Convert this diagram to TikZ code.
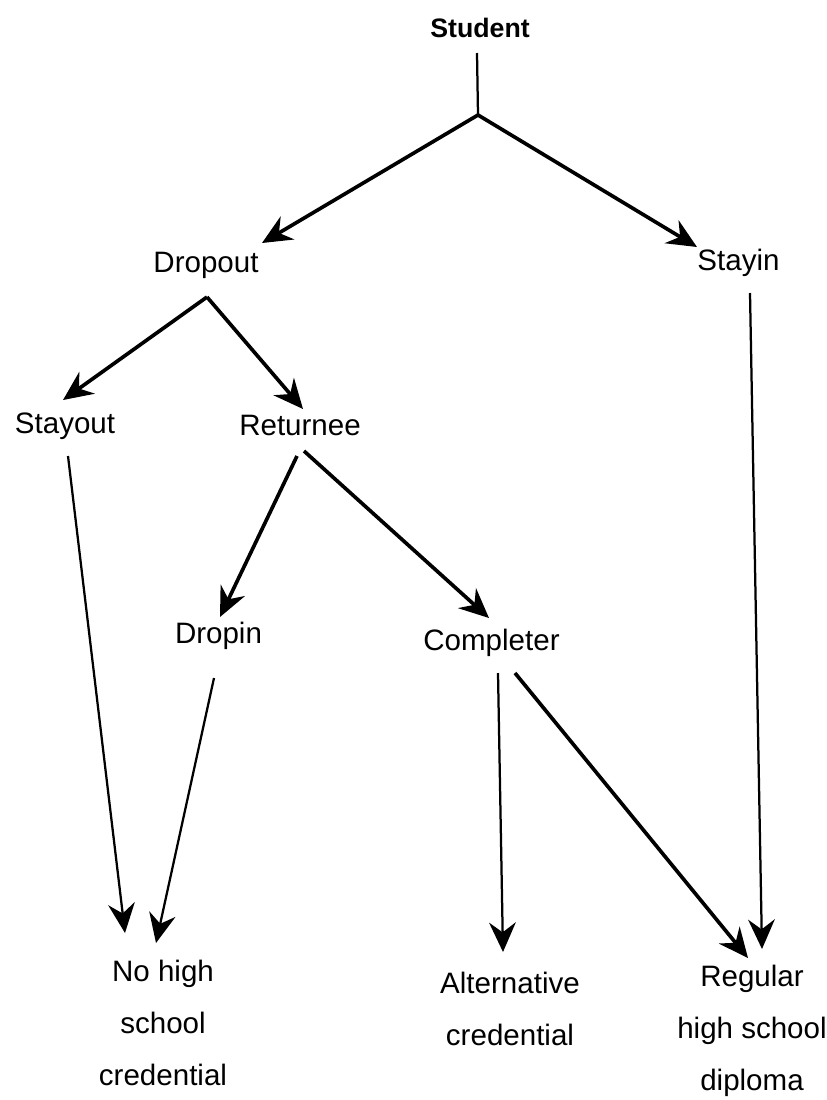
\documentclass[tikz,border=0pt]{standalone}
\usepackage{fontspec}
\setmainfont{Liberation Sans}
\usetikzlibrary{arrows.meta}

\begin{document}
\begin{tikzpicture}[
    x=0.025cm, y=-0.025cm,
    term/.style={anchor=base, inner sep=0pt, font=\fontsize{21}{25}\selectfont},
    outcome/.style={anchor=north, inner sep=0pt, align=center, font=\fontsize{21}{37}\selectfont},
    stem/.style={line width=1.6pt},
    arrow/.style={-{Stealth[length=21pt, width=19pt, inset=7pt]}, line width=2.6pt},
    thinarrow/.style={arrow, line width=1.6pt},
]
\useasboundingbox (0,0) rectangle (827,1100);

% Root
\node[term, font=\fontsize{19}{23}\selectfont\bfseries] (student) at (480,37) {Student};
\coordinate (split) at (478,115);

% First split
\node[term] (dropout) at (206,272) {Dropout};
\node[term] (stayin) at (738.5,270) {Stayin};

% Dropout branch
\node[term] (stayout) at (65,433) {Stayout};
\node[term] (returnee) at (300,435) {Returnee};

% Returnee branch
\node[term] (dropin) at (218.5,643) {Dropin};
\node[term] (completer) at (491.5,650) {Completer};

% Outcomes
\node[outcome] (nohs) at (163,960) {No high\\school\\credential};
\node[outcome] (altcred) at (510,972) {Alternative\\credential};
\node[outcome] (regdip) at (752,965) {Regular\\high school\\diploma};

% Student -> Dropout / Stayin
\draw[stem] ([shift={(-3,16)}]student.base) -- (split);
\draw[arrow] (split) -- ([shift={(56,-29)}]dropout.base);
\draw[arrow] (split) -- ([shift={(-41.5,-23)}]stayin.base);

% Dropout -> Stayout / Returnee
\draw[arrow] ([shift={(1,25)}]dropout.base) -- ([shift={(-2,-33)}]stayout.base);
\draw[arrow] ([shift={(1,25)}]dropout.base) -- ([shift={(3,-26)}]returnee.base);

% Returnee -> Dropin / Completer
\draw[arrow] ([shift={(-3,21)}]returnee.base) -- ([shift={(1.5,-26)}]dropin.base);
\draw[arrow] ([shift={(4,16)}]returnee.base) -- ([shift={(-2.5,-32)}]completer.base);

% Paths to outcomes
\draw[thinarrow] ([shift={(3,23)}]stayout.base) -- ([shift={(-38,-27)}]nohs.north);
\draw[thinarrow] ([shift={(-4.5,35)}]dropin.base) -- ([shift={(-7,-17)}]nohs.north);
\draw[thinarrow] ([shift={(6.5,23)}]completer.base) -- ([shift={(-7,-20)}]altcred.north);
\draw[arrow] ([shift={(23.5,23)}]completer.base) -- ([shift={(-4,-7)}]regdip.north);
\draw[thinarrow] ([shift={(11.5,23)}]stayin.base) -- ([shift={(10,-16)}]regdip.north);

\end{tikzpicture}
\end{document}
